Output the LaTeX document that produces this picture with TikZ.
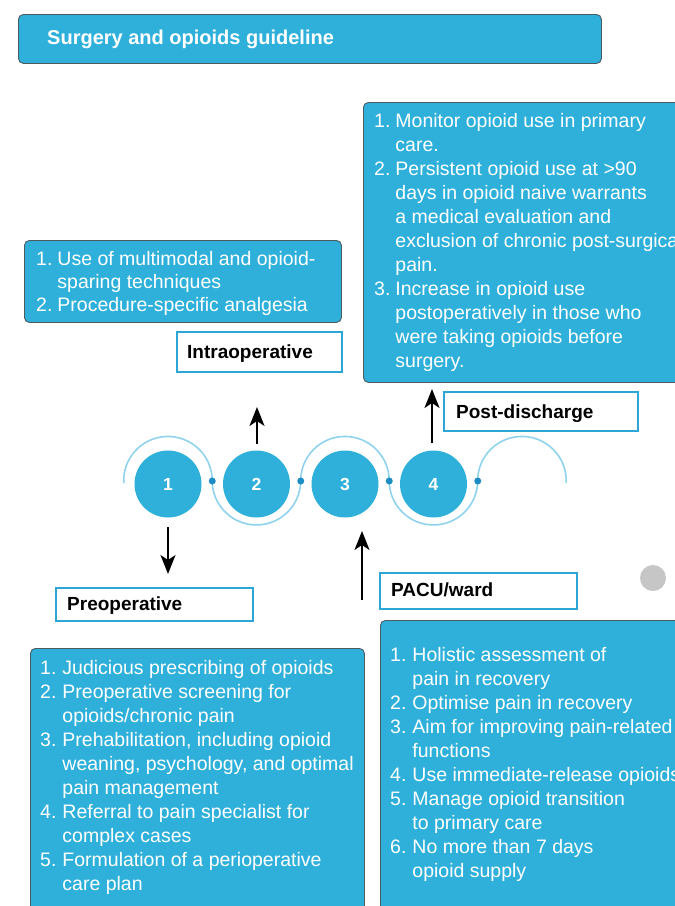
\documentclass[tikz,border=0pt]{standalone}
\usepackage{fontspec}
\setmainfont{Liberation Sans}
\usetikzlibrary{arrows.meta}
\definecolor{cyanbox}{HTML}{2EB0DA}
\definecolor{boxedge}{HTML}{4D5A60}
\definecolor{labeledge}{HTML}{2BA6D6}
\definecolor{wavecol}{HTML}{8FD3EE}
\definecolor{dotblue}{HTML}{1C8CC4}
\definecolor{graydot}{HTML}{C6C6C6}
\tikzset{
 infobox/.style={draw=boxedge, fill=cyanbox, line width=0.9pt, rounded corners=5pt, anchor=north west, inner sep=0pt},
 listtext/.style={anchor=base west, inner sep=0pt, text=white, font=\fontsize{19.5}{24}\selectfont},
 labelbox/.style={draw=labeledge, fill=white, line width=2pt, anchor=north west, inner sep=0pt},
 labeltext/.style={anchor=base west, inner sep=0pt, font=\fontsize{19}{23}\selectfont\bfseries},
 stepcircle/.style={circle, fill=cyanbox, minimum size=67pt, inner sep=0pt, text=white, font=\fontsize{17.5}{20}\selectfont\bfseries},
 joindot/.style={circle, fill=dotblue, minimum size=7pt, inner sep=0pt},
 flowarrow/.style={-{Stealth[length=19pt,width=15pt,inset=5pt]}, line width=2pt, black},
 waveline/.style={draw=wavecol, line width=1.6pt},
}
\begin{document}
\begin{tikzpicture}[x=1pt,y=-1pt]
\useasboundingbox (0,0) rectangle (675,906);
\clip (0,0) rectangle (675,906);
\fill[white] (0,0) rectangle (675,906);

% title
\node[infobox, minimum width=583pt, minimum height=49pt] (titlebox) at (18,14) {};
\node[anchor=base west, inner sep=0pt, text=white, font=\fontsize{20}{24}\selectfont\bfseries] (titletext) at (47,44) {Surgery and opioids guideline};

% intraoperative
\node[infobox, minimum width=317pt, minimum height=82pt] (intrabox) at (24,240) {};
\node[listtext, font=\fontsize{19.5}{23}\selectfont] (intratext) at (36,265) {\begin{tabular}[t]{@{}l@{\hspace{5pt}}l@{}}
1. & Use of multimodal and opioid-\\
 & sparing techniques\\
2. & Procedure-specific analgesia
\end{tabular}};
\node[labelbox, minimum width=165pt, minimum height=40pt] (intralabel) at (176,331) {};
\node[labeltext] (intralabeltext) at (187,358) {Intraoperative};

% post-discharge
\node[infobox, minimum width=340pt, minimum height=280pt] (postbox) at (363,102) {};
\node[listtext] (posttext) at (374,127) {\begin{tabular}[t]{@{}l@{\hspace{5pt}}l@{}}
1. & Monitor opioid use in primary\\
 & care.\\
2. & Persistent opioid use at >90\\
 & days in opioid naive warrants\\
 & a medical evaluation and\\
 & exclusion of chronic post-surgical\\
 & pain.\\
3. & Increase in opioid use\\
 & postoperatively in those who\\
 & were taking opioids before\\
 & surgery.
\end{tabular}};
\node[labelbox, minimum width=194pt, minimum height=39pt] (postlabel) at (443,391) {};
\node[labeltext] (postlabeltext) at (456,418) {Post-discharge};

% wave
\draw[waveline] (123.75,483) arc[start angle=183, end angle=0, radius=44.25pt]
  arc[start angle=180, end angle=360, radius=44.25pt]
  arc[start angle=180, end angle=0, radius=44.25pt]
  arc[start angle=180, end angle=360, radius=44.25pt]
  arc[start angle=180, end angle=-3, radius=44.25pt];

\node[stepcircle] (c1) at (168,484) {1};
\node[stepcircle] (c2) at (256.5,484) {2};
\node[stepcircle] (c3) at (345,484) {3};
\node[stepcircle] (c4) at (433.5,484) {4};
\node[joindot] (d1) at (212.25,481) {};
\node[joindot] (d2) at (300.75,481) {};
\node[joindot] (d3) at (389.25,481) {};
\node[joindot] (d4) at (477.75,481) {};

% arrows
\coordinate (a1s) at (168,527);
\coordinate (a1e) at (168,574);
\coordinate (a2s) at (257,444);
\coordinate (a2e) at (257,407);
\coordinate (a3s) at (362,600);
\coordinate (a3e) at (362,531);
\coordinate (a4s) at (432,443);
\coordinate (a4e) at (432,389);
\draw[flowarrow] (a1s) -- (a1e);
\draw[flowarrow] (a2s) -- (a2e);
\draw[flowarrow] (a3s) -- (a3e);
\draw[flowarrow] (a4s) -- (a4e);

% preoperative
\node[labelbox, minimum width=197pt, minimum height=33pt] (prelabel) at (55,587) {};
\node[labeltext] (prelabeltext) at (67,610) {Preoperative};
\node[infobox, minimum width=334pt, minimum height=290pt] (prebox) at (30,648) {};
\node[listtext] (pretext) at (40,674) {\begin{tabular}[t]{@{}l@{\hspace{6pt}}l@{}}
1. & Judicious prescribing of opioids\\
2. & Preoperative screening for\\
 & opioids/chronic pain\\
3. & Prehabilitation, including opioid\\
 & weaning, psychology, and optimal\\
 & pain management\\
4. & Referral to pain specialist for\\
 & complex cases\\
5. & Formulation of a perioperative\\
 & care plan
\end{tabular}};

% PACU/ward
\node[labelbox, minimum width=197pt, minimum height=36pt] (paculabel) at (379,572) {};
\node[labeltext] (pacelabeltext) at (391,596) {PACU/ward};
\node[infobox, minimum width=330pt, minimum height=320pt] (pacubox) at (380,620) {};
\node[listtext] (pacutext) at (390,661) {\begin{tabular}[t]{@{}l@{\hspace{6pt}}l@{}}
1. & Holistic assessment of\\
 & pain in recovery\\
2. & Optimise pain in recovery\\
3. & Aim for improving pain-related\\
 & functions\\
4. & Use immediate-release opioids\\
5. & Manage opioid transition\\
 & to primary care\\
6. & No more than 7 days\\
 & opioid supply
\end{tabular}};

\node[circle, fill=graydot, minimum size=26pt, inner sep=0pt] (gdot) at (653,578) {};
\end{tikzpicture}
\end{document}
